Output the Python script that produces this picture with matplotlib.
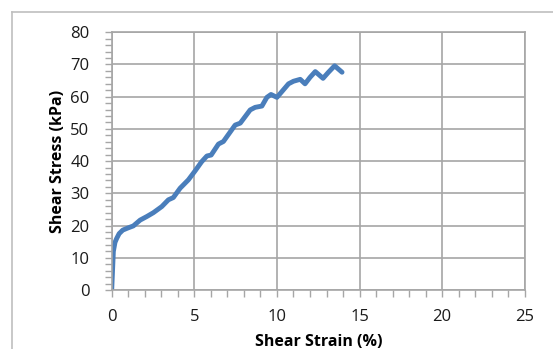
import matplotlib.pyplot as plt
from matplotlib.ticker import MultipleLocator
from matplotlib.lines import Line2D

# 読み取ったデータ（せん断ひずみ %, せん断応力 kPa）
strain = [0.0, 0.05, 0.1, 0.2, 0.3, 0.45, 0.67, 1.0, 1.31, 1.72, 2.12, 2.52, 3.03, 3.43,
          3.73, 4.14, 4.64, 5.05, 5.44, 5.76, 6.02, 6.46, 6.76, 7.47, 7.78, 8.38, 8.68,
          9.09, 9.39, 9.64, 10.0, 10.3, 10.7, 11.0, 11.41, 11.7, 12.0, 12.32, 12.79,
          13.1, 13.49, 13.94]
stress = [0.0, 6.0, 12.0, 14.8, 16.0, 17.5, 18.6, 19.3, 19.9, 21.7, 22.8, 24.0, 25.9, 28.0,
          28.7, 31.6, 34.2, 37.0, 39.8, 41.6, 41.9, 45.3, 46.1, 51.2, 51.8, 55.9, 56.7,
          57.1, 59.8, 60.7, 59.8, 61.6, 64.0, 64.8, 65.4, 64.0, 66.0, 67.8, 65.7,
          67.5, 69.6, 67.6]

grid_color = "#A6A6A6"
line_color = "#4A7EBB"
plt.rcParams['font.family'] = ['Open Sans', 'DejaVu Sans']

fig = plt.figure(figsize=(5.53, 3.49), dpi=100)
ax = fig.add_axes([0.202, 0.169, 0.747, 0.7385])

ax.plot(strain, stress, color=line_color, lw=3.5, solid_capstyle='round',
        solid_joinstyle='round')

ax.set_xlim(0, 25)
ax.set_ylim(0, 80)
ax.xaxis.set_major_locator(MultipleLocator(5))
ax.xaxis.set_minor_locator(MultipleLocator(1))
ax.yaxis.set_major_locator(MultipleLocator(10))
ax.yaxis.set_minor_locator(MultipleLocator(2))
ax.grid(which='major', color=grid_color, lw=1.2)
ax.set_axisbelow(True)

for s in ax.spines.values():
    s.set_color(grid_color)
    s.set_linewidth(1.2)

ax.tick_params(which='both', direction='out', color=grid_color, width=1.0,
               labelsize=12, labelcolor="#1a1a1a")
ax.tick_params(which='major', length=5)
ax.tick_params(which='minor', length=5)
ax.tick_params(axis='y', pad=11)
ax.tick_params(axis='x', pad=9)

ax.set_xlabel("Shear Strain (%)", fontsize=11.5, fontweight='bold', labelpad=6)
ax.set_ylabel("Shear Stress (kPa)", fontsize=11.5, fontweight='bold', labelpad=3)

# 外枠（チャートエリアの枠線）
fig.add_artist(Line2D([12 / 553, 1.0], [1 - 12 / 349, 1 - 12 / 349],
                      color="#BFBFBF", lw=1.2, transform=fig.transFigure))
fig.add_artist(Line2D([12 / 553, 12 / 553], [0.0, 1 - 12 / 349],
                      color="#BFBFBF", lw=1.2, transform=fig.transFigure))

fig.savefig("out.png", dpi=100)
